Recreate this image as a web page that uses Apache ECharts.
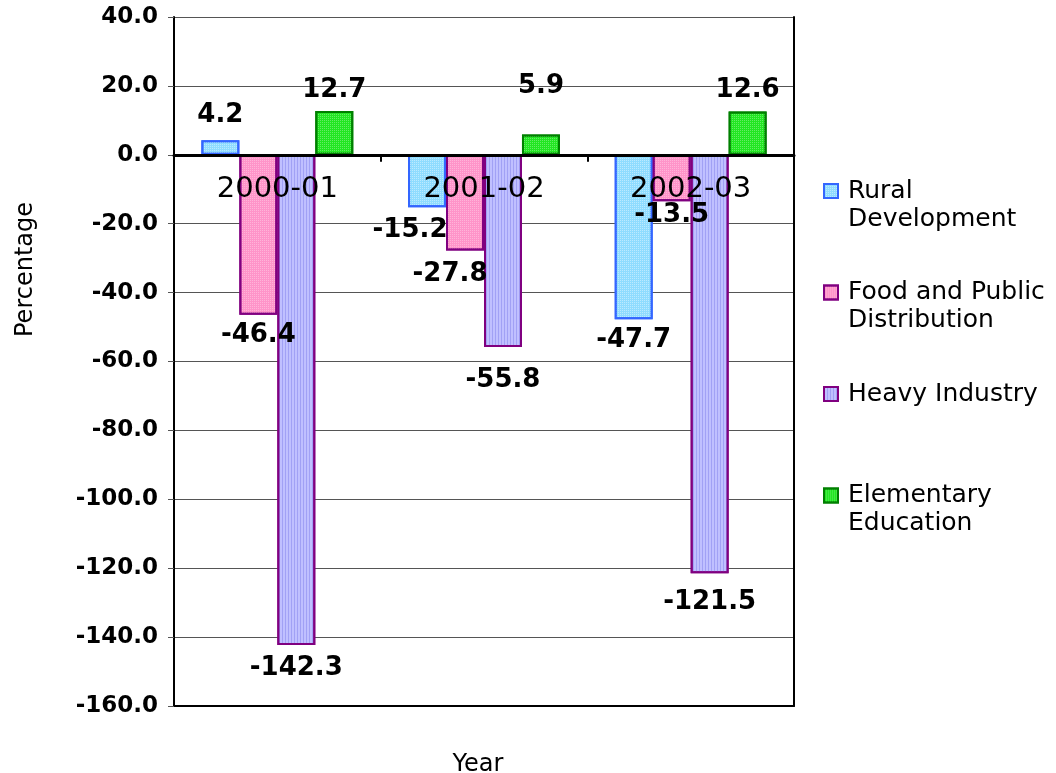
<!DOCTYPE html>
<html>
<head>
<meta charset="utf-8">
<title>Budget change by ministry</title>
<script src="https://cdn.jsdelivr.net/npm/echarts@6/dist/echarts.min.js"></script>
<style>
  html, body { margin: 0; padding: 0; background: #fff; }
  #chart { width: 1056px; height: 773px; }
</style>
</head>
<body>
<div id="chart"></div>
<script>
// Fiscal years on the category axis
const years = ['2000-01', '2001-02', '2002-03'];

// Percentage change per ministry
const ruralDevelopment = [4.2, -15.2, -47.7];
const foodPublicDistribution = [-46.4, -27.8, -13.5];
const heavyIndustry = [-142.3, -55.8, -121.5];
const elementaryEducation = [12.7, 5.9, 12.6];

// Value axis range
const yMin = -160;
const yMax = 40;
const yStep = 20;

const FONT = 'DejaVu Sans';

// Hand-placed label nudges [dx, dy] for a few crowded bars (series index, category index)
const labelNudge = {
  '0,0': [0, -4],
  '0,1': [-17, 0],
  '0,2': [0, -2],
  '1,0': [0, -2],
  '1,1': [-15, 1],
  '1,2': [0, -9],
  '2,1': [0, 10],
  '2,2': [0, 6],
  '3,1': [0, -27]
};

const seriesDefs = [
  {
    name: 'Rural\nDevelopment',
    values: ruralDevelopment,
    itemStyle: {
      color: '#8fdcff', borderColor: '#3366ff', borderWidth: 2,
      decal: { symbol: 'rect', symbolSize: 1, dashArrayX: [1, 1], dashArrayY: [1, 1], color: 'rgba(255,255,255,0.4)' }
    }
  },
  {
    name: 'Food and Public\nDistribution',
    values: foodPublicDistribution,
    itemStyle: {
      color: '#ff94c9', borderColor: '#800080', borderWidth: 2,
      decal: { symbol: 'rect', symbolSize: 1, dashArrayX: [1, 1], dashArrayY: [1, 1], color: 'rgba(255,255,255,0.3)' }
    }
  },
  {
    name: 'Heavy Industry',
    values: heavyIndustry,
    itemStyle: {
      color: '#c0c0ff', borderColor: '#800080', borderWidth: 2,
      decal: { symbol: 'rect', symbolSize: 1, dashArrayX: [1, 2], dashArrayY: [10, 0], color: 'rgba(130,130,235,0.5)' }
    }
  },
  {
    name: 'Elementary\nEducation',
    values: elementaryEducation,
    itemStyle: {
      color: '#22e622', borderColor: '#008000', borderWidth: 2,
      decal: { symbol: 'rect', symbolSize: 1, dashArrayX: [1, 1], dashArrayY: [1, 1], color: 'rgba(255,255,255,0.3)' }
    }
  }
];

const series = seriesDefs.map((def, si) => ({
  name: def.name,
  type: 'bar',
  xAxisIndex: 0,
  yAxisIndex: 0,
  barGap: '0%',
  barCategoryGap: '26.5%',
  itemStyle: def.itemStyle,
  label: {
    show: true,
    fontFamily: FONT,
    fontWeight: 'bold',
    fontSize: 26,
    color: '#000',
    formatter: p => p.value.toFixed(1)
  },
  data: def.values.map((v, ci) => ({
    value: v,
    label: {
      position: v >= 0 ? 'top' : 'bottom',
      distance: v >= 0 ? 8 : 10,
      offset: labelNudge[si + ',' + ci] || [0, 0]
    }
  }))
}));

// Legend text: three lines in total, with one blank line on top,
// so the first text line sits beside the swatch
function legendText(name) {
  const lines = name.split('\n');
  const below = 3 - 1 - lines.length;
  return [' '].concat(lines).concat(below > 0 ? [' '] : []).join('\n');
}

const chart = echarts.init(document.getElementById('chart'), null, { renderer: 'canvas' });

function buildOption(labelOffset) {
  return {
    animation: false,
    backgroundColor: '#fff',
    grid: { left: 174, right: 262, top: 17, bottom: 67, containLabel: false, outerBoundsMode: 'none' },
    legend: {
      orient: 'vertical',
      left: 823,
      top: 149,
      padding: 0,
      icon: 'rect',
      itemWidth: 14,
      itemHeight: 14,
      itemGap: 17.5,
      selectedMode: false,
      formatter: legendText,
      textStyle: { fontFamily: FONT, fontSize: 25, lineHeight: 28, color: '#000', padding: [0, 0, 0, 5] }
    },
    xAxis: [
      {
        // zero line with ticks between the years
        type: 'category',
        data: years,
        z: 5,
        axisLine: { onZero: true, lineStyle: { color: '#000', width: 3 } },
        axisTick: { show: true, length: 7, lineStyle: { color: '#000', width: 2 } },
        axisLabel: { show: false },
        splitLine: { show: false }
      },
      {
        // bottom frame and axis title
        type: 'category',
        data: years,
        position: 'bottom',
        name: 'Year',
        nameLocation: 'middle',
        nameGap: 47,
        nameTextStyle: { fontFamily: FONT, fontSize: 24, color: '#000', padding: [0, 12, 0, 0] },
        axisLine: { onZero: false, lineStyle: { color: '#000', width: 2 } },
        axisTick: { show: false },
        axisLabel: { show: false },
        splitLine: { show: false }
      },
      {
        // year labels hanging just under the zero line
        type: 'category',
        data: years,
        position: 'top',
        offset: labelOffset,
        z: 6,
        axisLine: { show: false, onZero: false },
        axisTick: { show: false },
        axisLabel: { inside: true, fontFamily: FONT, fontSize: 29, color: '#000', margin: 20 },
        splitLine: { show: false }
      }
    ],
    yAxis: [
      {
        type: 'value',
        min: yMin,
        max: yMax,
        interval: yStep,
        name: 'Percentage',
        nameLocation: 'middle',
        nameRotate: 90,
        nameGap: 136,
        nameTextStyle: { fontFamily: FONT, fontSize: 24, color: '#000', padding: [0, 0, 0, 184] },
        axisLine: { show: true, lineStyle: { color: '#000', width: 2 } },
        axisTick: { show: true, length: 6, lineStyle: { color: '#555', width: 1 } },
        axisLabel: {
          fontFamily: FONT, fontWeight: 'bold', fontSize: 23, color: '#000', margin: 16,
          formatter: v => v.toFixed(1)
        },
        splitLine: { show: true, lineStyle: { color: '#555', width: 1 } }
      },
      {
        type: 'value',
        min: yMin,
        max: yMax,
        interval: yStep,
        position: 'right',
        axisLine: { show: true, lineStyle: { color: '#000', width: 2 } },
        axisTick: { show: false },
        axisLabel: { show: false },
        splitLine: { show: false }
      }
    ],
    series: series
  };
}

chart.setOption(buildOption(0));
// place the year labels at the zero line, measured through the value axis
const topY = chart.convertToPixel({ yAxisIndex: 0 }, yMax);
const zeroY = chart.convertToPixel({ yAxisIndex: 0 }, 0);
chart.setOption(buildOption(-(zeroY - topY)));
</script>
</body>
</html>
